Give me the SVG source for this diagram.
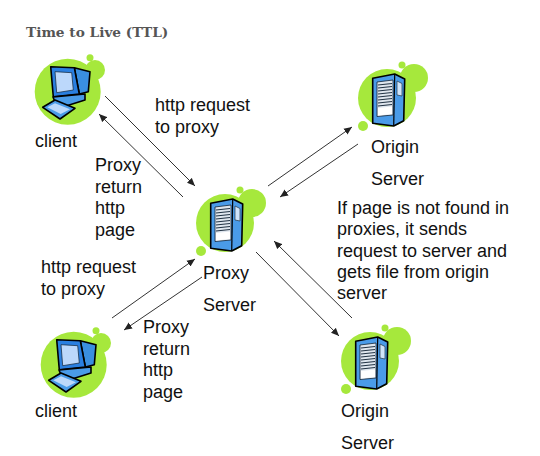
<svg xmlns="http://www.w3.org/2000/svg" width="540" height="456" viewBox="0 0 540 456">
<style>
text{font-family:"Liberation Sans",Arial,sans-serif;font-size:18px;fill:#111}
.title{font-family:"DejaVu Serif",serif;font-size:13.700px;font-weight:bold;fill:#555}
.c{stroke:#333;stroke-width:1;fill:none;marker-end:url(#a)}
.g{fill:#a6e83c}
.k{stroke:#000;stroke-width:1.600;stroke-linejoin:round}
</style>
<defs>
<marker id="a" markerWidth="9" markerHeight="8" refX="8" refY="4" orient="auto" markerUnits="userSpaceOnUse"><path d="M0 0.500L8 4L0 7.500Z" fill="#222"/></marker>
<g id="srv">
<circle class="g" cx="35" cy="43" r="29"/><circle class="g" cx="62" cy="23" r="14"/><circle class="g" cx="50" cy="10" r="3.500"/><circle class="g" cx="11" cy="71" r="5"/>
<path class="k" fill="#4a9be8" d="M20.700 23.300L42.700 19L52.700 24L51.700 65.700L41.700 71L20.700 68.300Z"/>
<path fill="#dfe6ee" stroke="#123" stroke-width=".8" d="M25 27L41 25V60L25 61.500Z"/>
<path stroke="#234" stroke-width="1.100" d="M26 30L40 28.500M26 33L40 31.500M26 36L40 34.500M26 39L40 37.500M26 42L40 40.500M26 45L40 43.500M26 48L40 46.500M26 51L40 49.500"/>
<path fill="#fff" d="M26 53L40 51.500V59L26 60.500Z"/>
<path fill="#cfe4fa" stroke="#234" stroke-width=".7" d="M45 26L50 28.500V41L45 40Z"/>
<path stroke="#000" stroke-width="1.200" d="M42.700 19.500L41.700 71"/>
</g>
<g id="cli">
<circle class="g" cx="33.700" cy="31.700" r="33"/><circle class="g" cx="61" cy="10" r="10"/><circle class="g" cx="56" cy="-2.300" r="3.500"/>
<path class="k" fill="#3a8fe0" d="M40.300 7.700L56 11.700L54.300 31.700L45.300 34Z"/>
<path class="k" fill="#2a7fe0" d="M16.700 6.700L40.300 7.700L45.300 34L19.300 36.700Z"/>
<path fill="#bcd8fb" stroke="#123" stroke-width=".7" d="M21 11.700L37.700 12.700L39.300 30L22.700 32.700Z"/>
<path class="k" fill="#4a9be8" d="M19 37L51 34L51 40L32 46L21 42Z"/>
<path class="k" fill="#4a9be8" d="M8.700 47.300L21 40L41 48.300L26 59Z"/>
<path fill="#bcd8fb" d="M13.300 47.300L21 43.300L36 49.300L26.700 54Z"/>
</g>
</defs>
<text class="title" x="26" y="37">Time to Live (TTL)</text>
<g id="connectors">
<path class="c" d="M105 96L195 186"/>
<path class="c" d="M183 197L99 114"/>
<path class="c" d="M268 186L352 127"/>
<path class="c" d="M358 144L280 197"/>
<path class="c" d="M256 252L339 336"/>
<path class="c" d="M352 318L274 241"/>
<path class="c" d="M112 318L195 259"/>
<path class="c" d="M202 277L124 330"/>
</g>
<g id="client1"><use href="#cli" x="34" y="60"/><text x="35" y="147">client</text></g>
<g id="client2"><use href="#cli" x="40" y="333"/><text x="35" y="417">client</text></g>
<g id="proxy"><use href="#srv" x="190" y="180"/><text x="203" y="279">Proxy</text><text x="203" y="311">Server</text></g>
<g id="origin1"><use href="#srv" x="352" y="55"/><text x="371" y="153">Origin</text><text x="371" y="185">Server</text></g>
<g id="origin2"><use href="#srv" x="335" y="318"/><text x="341" y="417">Origin</text><text x="341" y="449">Server</text></g>
<g id="labels">
<text x="155" y="111">http request</text><text x="155" y="133">to proxy</text>
<text x="95" y="171">Proxy</text><text x="95" y="193">return</text><text x="95" y="214">http</text><text x="95" y="236">page</text>
<text x="41" y="273">http request</text><text x="41" y="295">to proxy</text>
<text x="143" y="333">Proxy</text><text x="143" y="355">return</text><text x="143" y="376">http</text><text x="143" y="398">page</text>
<text x="337" y="214">If page is not found in</text><text x="337" y="235">proxies, it sends</text><text x="337" y="257">request to server and</text><text x="337" y="278">gets file from origin</text><text x="337" y="299">server</text>
</g>
</svg>
